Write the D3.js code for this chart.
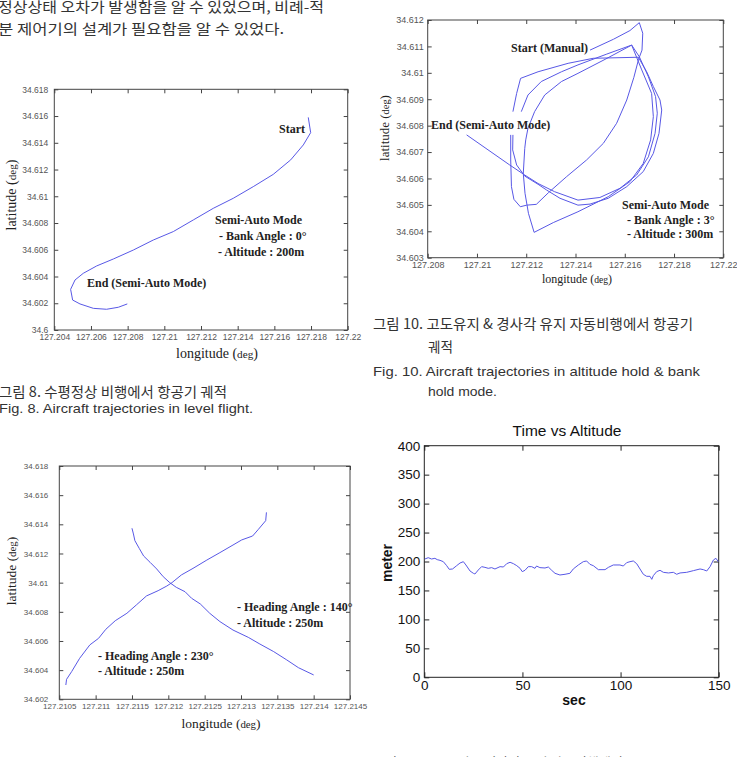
<!DOCTYPE html>
<html>
<head>
<meta charset="utf-8">
<script src="https://cdn.jsdelivr.net/npm/d3@7"></script>
<style>
  body { margin: 0; background: #fff; }
  .kr { font-family: "Noto Sans CJK KR", sans-serif; fill: #333; }
  .en { font-family: "Liberation Sans", Arial, sans-serif; fill: #333; }
  .note { font-family: "Liberation Serif", "Times New Roman", serif; font-weight: bold; font-size: 12px; fill: #222; }
  .axlab { font-family: "Liberation Serif", "Times New Roman", serif; fill: #222; }
</style>
</head>
<body>
<svg id="page" width="737" height="757"></svg>
<script>
// ---- data ----

// Fig. 8 : level flight trajectory [lon, lat]
const levelFlight = [
  [127.21785, 34.6159], [127.21798, 34.61476], [127.21758, 34.61384], [127.21689, 34.61272],
  [127.21594, 34.61164], [127.21485, 34.61072], [127.21376, 34.60985], [127.21267, 34.6091],
  [127.21158, 34.60823], [127.21049, 34.60736], [127.2094, 34.60673], [127.20831, 34.60598],
  [127.20722, 34.60531], [127.20631, 34.60479], [127.20558, 34.60424], [127.20513, 34.60374],
  [127.20489, 34.60304], [127.205, 34.60224], [127.2054, 34.60195], [127.20613, 34.60162],
  [127.20685, 34.60155], [127.20749, 34.6017], [127.20798, 34.60195]
];
const fig8LonTicks = [127.204, 127.206, 127.208, 127.21, 127.212, 127.214, 127.216, 127.218, 127.22];
const fig8LatTicks = [34.6, 34.602, 34.604, 34.606, 34.608, 34.61, 34.612, 34.614, 34.616, 34.618];

// Fig. 10 : altitude hold & bank hold, several laps (gaps in the record)
const bankLap1 = [
  [127.21459, 34.61086], [127.21554, 34.61127], [127.21621, 34.6116], [127.21659, 34.6119],
  [127.21673, 34.6115], [127.2167, 34.61086], [127.21656, 34.61051], [127.21637, 34.60983],
  [127.21608, 34.60897], [127.21567, 34.60809], [127.21513, 34.60733], [127.21445, 34.6067],
  [127.21364, 34.60607], [127.2129, 34.60546], [127.21241, 34.60502], [127.21202, 34.60499],
  [127.21176, 34.60493], [127.2115, 34.60521], [127.2114, 34.60569], [127.21137, 34.6067],
  [127.21137, 34.60765]
];
const bankLap2 = [
  [127.21146, 34.60853], [127.21161, 34.60922], [127.21177, 34.60979], [127.21248, 34.61004],
  [127.2137, 34.61036], [127.21472, 34.61055], [127.21655, 34.61059], [127.21689, 34.61004],
  [127.21716, 34.60948], [127.21743, 34.60897], [127.2175, 34.60859], [127.21739, 34.60771],
  [127.21716, 34.60695], [127.21675, 34.60626], [127.21608, 34.60569], [127.21533, 34.60525],
  [127.21459, 34.60503], [127.2141, 34.60499], [127.21337, 34.60525], [127.21283, 34.60556],
  [127.21248, 34.60578], [127.21194, 34.60609], [127.21161, 34.60651], [127.21145, 34.60708],
  [127.21146, 34.60765]
];
const bankLap3 = [
  [127.21628, 34.61105], [127.21669, 34.61011], [127.21709, 34.60922], [127.21716, 34.60834],
  [127.21705, 34.60746], [127.21675, 34.60657], [127.21621, 34.60588], [127.21533, 34.60531],
  [127.2141, 34.60474], [127.2131, 34.60433], [127.21232, 34.60396], [127.21209, 34.60468],
  [127.21195, 34.60544], [127.21188, 34.60619], [127.21194, 34.60714], [127.21198, 34.60746],
  [127.21207, 34.6079], [127.21234, 34.60853], [127.21275, 34.60916], [127.21343, 34.60967],
  [127.2141, 34.60998], [127.2152, 34.61051], [127.21628, 34.61105]
];
const bankLap4 = [
  [127.2118, 34.60853], [127.21207, 34.60916], [127.21261, 34.60967], [127.21343, 34.61004],
  [127.2141, 34.6103], [127.21527, 34.61071], [127.21628, 34.61105], [127.21659, 34.61061],
  [127.21696, 34.60985], [127.21725, 34.6091], [127.21732, 34.60847], [127.21723, 34.60771],
  [127.21696, 34.60682], [127.21648, 34.60613], [127.21581, 34.60563], [127.21499, 34.60528],
  [127.2141, 34.60518], [127.21315, 34.6055], [127.21248, 34.60581], [127.21194, 34.60613],
  [127.21133, 34.60651], [127.20958, 34.60765]
];
const fig10LonTicks = [127.208, 127.21, 127.212, 127.214, 127.216, 127.218, 127.22];
const fig10LatTicks = [34.603, 34.604, 34.605, 34.606, 34.607, 34.608, 34.609, 34.61, 34.611, 34.612];

// Fig. 9 : heading hold, two legs
const heading230 = [
  [127.21059, 34.60298], [127.2106, 34.60337], [127.21067, 34.6039], [127.21078, 34.60481],
  [127.21092, 34.60573], [127.21104, 34.60618], [127.21114, 34.6068], [127.21127, 34.60739],
  [127.21143, 34.6079], [127.21156, 34.60847], [127.2117, 34.60909], [127.21186, 34.60945],
  [127.21198, 34.60977], [127.21205, 34.61], [127.21218, 34.61053], [127.21234, 34.61098],
  [127.21253, 34.61155], [127.21271, 34.61206], [127.21289, 34.61258], [127.21301, 34.61293],
  [127.21316, 34.6132], [127.21324, 34.61366], [127.21334, 34.61425], [127.21335, 34.61482]
];
const heading140 = [
  [127.2115, 34.61373], [127.21152, 34.61334], [127.21154, 34.61288], [127.2116, 34.61235],
  [127.21166, 34.61183], [127.21175, 34.61139], [127.21184, 34.61094], [127.21193, 34.61041],
  [127.21202, 34.61], [127.21211, 34.60968], [127.21223, 34.60938], [127.21232, 34.60893],
  [127.21244, 34.60854], [127.21257, 34.6079], [127.21271, 34.60733], [127.21289, 34.60675],
  [127.2131, 34.60625], [127.21326, 34.60579], [127.21345, 34.60527], [127.21363, 34.6047],
  [127.21379, 34.60417], [127.214, 34.60367]
];
const fig9LonTicks = [127.2105, 127.211, 127.2115, 127.212, 127.2125, 127.213, 127.2135, 127.214, 127.2145];
const fig9LatTicks = [34.602, 34.604, 34.606, 34.608, 34.61, 34.612, 34.614, 34.616, 34.618];

// Time vs Altitude
const altTime = [0.3, 2.0, 3.7, 5.4, 6.6, 8.0, 9.7, 11.4, 12.7, 14.4, 16.5, 18.2, 19.9, 21.2, 23.3,
  25.0, 25.8, 27.5, 29.2, 30.9, 32.6, 34.3, 36.0, 38.6, 40.3, 42.0, 43.7, 45.4, 47.1, 48.8, 49.9,
  51.3, 53.0, 54.7, 56.4, 57.2, 58.9, 61.5, 63.2, 64.9, 66.6, 69.1, 71.7, 74.2, 75.9, 78.5, 81.0,
  82.7, 84.4, 86.1, 88.7, 92.1, 93.8, 96.3, 99.7, 101.4, 103.1, 104.8, 106.5, 108.2, 109.9, 111.6,
  113.3, 115.0, 115.9, 116.7, 118.4, 120.1, 121.8, 124.4, 126.9, 128.6, 130.3, 133.7, 137.1, 140.5,
  142.2, 143.9, 145.6, 147.3, 148.6, 149.8];
const altMeters = [204.3, 206.6, 204.3, 205.5, 203.2, 202.0, 199.7, 192.8, 186.5, 187.1, 192.8, 197.4,
  199.7, 194.0, 183.6, 179.6, 178.4, 185.3, 191.1, 189.9, 188.2, 189.4, 187.1, 191.1, 190.5, 196.3,
  198.6, 196.3, 192.8, 188.2, 182.5, 184.8, 191.1, 191.1, 188.2, 192.2, 189.4, 188.8, 190.5, 184.8,
  179.6, 176.7, 177.9, 179.6, 187.1, 194.0, 199.7, 200.9, 195.1, 192.8, 185.9, 185.9, 189.9, 194.0,
  194.0, 192.2, 198.0, 199.7, 200.9, 196.3, 187.1, 177.9, 174.4, 174.4, 169.2, 175.6, 182.5, 184.8,
  181.3, 180.2, 181.3, 177.9, 180.2, 181.3, 184.2, 187.1, 185.9, 183.6, 191.1, 202.6, 205.5, 199.7];
const secTicks = [0, 50, 100, 150];
const meterTicks = [0, 50, 100, 150, 200, 250, 300, 350, 400];

// ---- drawing ----
const svg = d3.select("#page");
const lineBlue = "#5858e6";

function addText(g, cls, x, y, str, size, len) {
  const t = g.append("text").attr("class", cls).attr("x", x).attr("y", y)
    .style("font-size", size + "px").text(str);
  if (len) t.attr("textLength", len).attr("lengthAdjust", "spacingAndGlyphs");
  return t;
}

function degLabel(g, x, y, word, size, rotate) {
  const t = g.append("text").attr("class", "axlab")
    .attr("text-anchor", "middle")
    .attr("transform", rotate ? `translate(${x},${y}) rotate(-90)` : `translate(${x},${y})`)
    .style("font-size", size + "px");
  t.append("tspan").text(word + " (");
  t.append("tspan").style("font-size", (size * 0.8) + "px").text("deg");
  t.append("tspan").text(")");
}

function drawTrajectory(box, lonTicks, latTicks, tracks, opt) {
  const g = svg.append("g");
  const x = d3.scaleLinear().domain(d3.extent(lonTicks)).range([box.left, box.right]);
  const y = d3.scaleLinear().domain(d3.extent(latTicks)).range([box.bottom, box.top]);
  const fmt = d => String(+d.toFixed(5));

  g.append("g").attr("transform", `translate(0,${box.bottom})`)
    .call(d3.axisBottom(x).tickValues(lonTicks).tickFormat(fmt).tickSize(-4).tickSizeOuter(0).tickPadding(opt.padX));
  g.append("g").attr("transform", `translate(${box.left},0)`)
    .call(d3.axisLeft(y).tickValues(latTicks).tickFormat(fmt).tickSize(-4).tickSizeOuter(0).tickPadding(opt.padY));
  g.append("g").attr("transform", `translate(0,${box.top})`)
    .call(d3.axisTop(x).tickValues(lonTicks).tickFormat("").tickSize(-4).tickSizeOuter(0));
  g.append("g").attr("transform", `translate(${box.right},0)`)
    .call(d3.axisRight(y).tickValues(latTicks).tickFormat("").tickSize(-4).tickSizeOuter(0));

  g.selectAll(".domain").remove();
  g.selectAll(".tick line").attr("stroke", "#444");
  g.selectAll(".tick text")
    .attr("fill", "#555")
    .style("font-family", "'Liberation Sans', Arial, sans-serif")
    .style("font-size", opt.tickFont + "px");

  g.append("rect")
    .attr("x", box.left).attr("y", box.top)
    .attr("width", box.right - box.left).attr("height", box.bottom - box.top)
    .attr("fill", "none").attr("stroke", "#444").attr("stroke-width", 1);

  const line = d3.line().x(d => x(d[0])).y(d => y(d[1]));
  g.selectAll("path.track").data(tracks).enter().append("path")
    .attr("class", "track")
    .attr("d", line)
    .attr("fill", "none")
    .attr("stroke", lineBlue)
    .attr("stroke-width", 1);
  return g;
}

// body text at top left
addText(svg, "kr", -2, 12, "정상상태 오차가 발생함을 알 수 있었으며, 비례-적", 14, 326);
addText(svg, "kr", -2, 34, "분 제어기의 설계가 필요함을 알 수 있었다.", 14, 286);

// Fig. 8
const g8 = drawTrajectory({ left: 54.3, top: 89.3, right: 347.7, bottom: 330 },
  fig8LonTicks, fig8LatTicks, [levelFlight], { padX: 4, padY: 6, tickFont: 8.5 });
addText(g8, "note", 279, 133, "Start", 12);
addText(g8, "note", 215, 224, "Semi-Auto Mode", 12);
addText(g8, "note", 219, 240, "- Bank Angle : 0°", 12);
addText(g8, "note", 218, 256, "- Altitude : 200m", 12);
addText(g8, "note", 87, 287, "End (Semi-Auto Mode)", 12);
degLabel(g8, 217, 358, "longitude", 14, false);
degLabel(g8, 16, 195, "latitude", 14, true);

addText(svg, "kr", -1, 397, "그림 8. 수평정상 비행에서 항공기 궤적", 14, 228);
addText(svg, "en", -1, 413, "Fig. 8. Aircraft trajectories in level flight.", 13.5, 254);

// Fig. 9
const g9 = drawTrajectory({ left: 59.3, top: 466, right: 350, bottom: 699.3 },
  fig9LonTicks, fig9LatTicks, [heading230, heading140], { padX: 4, padY: 11, tickFont: 8 });
addText(g9, "note", 237, 611, "- Heading Angle : 140°", 12);
addText(g9, "note", 237, 627, "- Altitude : 250m", 12);
addText(g9, "note", 98, 660, "- Heading Angle : 230°", 12);
addText(g9, "note", 98, 675, "- Altitude : 250m", 12);
degLabel(g9, 221, 728, "longitude", 13.5, false);
degLabel(g9, 16, 571, "latitude", 13.5, true);

// Fig. 10
const g10 = drawTrajectory({ left: 427.7, top: 20, right: 723.3, bottom: 257.7 },
  fig10LonTicks, fig10LatTicks, [bankLap1, bankLap2, bankLap3, bankLap4], { padX: 4, padY: 4, tickFont: 9 });
addText(g10, "note", 511, 52, "Start (Manual)", 12);
addText(g10, "note", 431, 129, "End (Semi-Auto Mode)", 12);
addText(g10, "note", 622, 209, "Semi-Auto Mode", 12);
addText(g10, "note", 627, 224, "- Bank Angle : 3°", 12);
addText(g10, "note", 627, 238, "- Altitude : 300m", 12);
degLabel(g10, 577, 283, "longitude", 12, false);
degLabel(g10, 389, 128, "latitude", 13, true);

addText(svg, "kr", 373, 329, "그림 10. 고도유지 & 경사각 유지 자동비행에서 항공기", 14, 320);
addText(svg, "kr", 428, 352, "궤적", 14, 25);
addText(svg, "en", 373, 376, "Fig. 10. Aircraft trajectories in altitude hold & bank", 13.5, 327);
addText(svg, "en", 428, 396, "hold mode.", 13.5, 69);

// Time vs Altitude
const altBox = { left: 424.3, top: 445.7, right: 718.7, bottom: 677.3 };
const gA = svg.append("g");
const xA = d3.scaleLinear().domain(d3.extent(secTicks)).range([altBox.left, altBox.right]);
const yA = d3.scaleLinear().domain(d3.extent(meterTicks)).range([altBox.bottom, altBox.top]);

gA.append("g").attr("transform", `translate(0,${altBox.bottom})`)
  .call(d3.axisBottom(xA).tickValues(secTicks).tickSize(-5).tickSizeOuter(0).tickPadding(3));
gA.append("g").attr("transform", `translate(${altBox.left},0)`)
  .call(d3.axisLeft(yA).tickValues(meterTicks).tickSize(-5).tickSizeOuter(0).tickPadding(4));
gA.append("g").attr("transform", `translate(0,${altBox.top})`)
  .call(d3.axisTop(xA).tickValues(secTicks).tickFormat("").tickSize(-5).tickSizeOuter(0));
gA.append("g").attr("transform", `translate(${altBox.right},0)`)
  .call(d3.axisRight(yA).tickValues(meterTicks).tickFormat("").tickSize(-5).tickSizeOuter(0));
gA.selectAll(".domain").remove();
gA.selectAll(".tick line").attr("stroke", "#222");
gA.selectAll(".tick text")
  .attr("fill", "#111")
  .style("font-family", "'Liberation Sans', Arial, sans-serif")
  .style("font-size", "13.5px");
gA.append("rect")
  .attr("x", altBox.left).attr("y", altBox.top)
  .attr("width", altBox.right - altBox.left).attr("height", altBox.bottom - altBox.top)
  .attr("fill", "none").attr("stroke", "#222");

const altLine = d3.line().x((d, i) => xA(altTime[i])).y(d => yA(d));
gA.append("path").datum(altMeters)
  .attr("d", altLine).attr("fill", "none")
  .attr("stroke", lineBlue).attr("stroke-width", 1);

gA.append("text").attr("x", 567).attr("y", 436).attr("text-anchor", "middle")
  .style("font-family", "'Liberation Sans', Arial, sans-serif").style("font-size", "15.5px")
  .attr("fill", "#111").text("Time vs Altitude");
gA.append("text").attr("x", 574).attr("y", 705).attr("text-anchor", "middle")
  .style("font-family", "'Liberation Sans', Arial, sans-serif").style("font-size", "14px")
  .style("font-weight", "bold").attr("fill", "#111").text("sec");
gA.append("text").attr("transform", "translate(392,563) rotate(-90)").attr("text-anchor", "middle")
  .style("font-family", "'Liberation Sans', Arial, sans-serif").style("font-size", "14px")
  .style("font-weight", "bold").attr("fill", "#111").text("meter");

// next caption, cut by the page edge
addText(svg, "kr", 373, 768, "그림 11. 고도유지 & 경사각 유지 자동비행에서 고도", 14, 277);
</script>
</body>
</html>
